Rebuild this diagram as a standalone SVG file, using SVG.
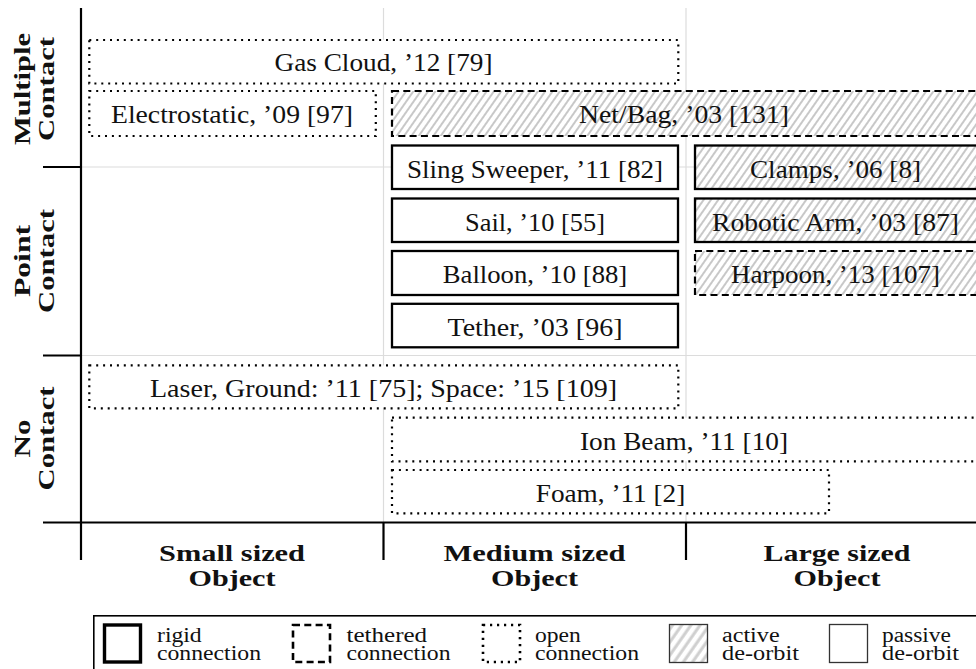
<svg xmlns="http://www.w3.org/2000/svg" width="976" height="669" viewBox="0 0 976 669">
<defs>
<pattern id="hatch" patternUnits="userSpaceOnUse" width="6" height="6" patternTransform="rotate(35)">
<rect width="6" height="6" fill="#fff"/>
<line x1="1" y1="0" x2="1" y2="6" stroke="#c8c8c8" stroke-width="2"/>
</pattern>
<pattern id="hatchL" patternUnits="userSpaceOnUse" width="7.5" height="7.5" patternTransform="rotate(35)">
<rect width="7.5" height="7.5" fill="#fff"/>
<line x1="2" y1="0" x2="2" y2="7.5" stroke="#cfcfcf" stroke-width="3"/>
</pattern>
<style>
.grid{stroke:#dcdcdc;stroke-width:1.2;fill:none}
.axis{stroke:#000;stroke-width:2.2;fill:none}
.solid{stroke:#000;stroke-width:2.3;fill:#fff}
.dashed{stroke:#000;stroke-width:2.2;stroke-dasharray:7 4.3;fill:#fff}
.dotted{stroke:#000;stroke-width:2.2;stroke-dasharray:2 4.9;fill:#fff}
.hat{fill:url(#hatch)}
.t{font-family:"Liberation Serif","DejaVu Serif",serif;font-size:26px;text-anchor:middle;fill:#111}
.b{font-family:"Liberation Serif","DejaVu Serif",serif;font-size:24px;font-weight:bold;text-anchor:middle;fill:#111}
.l{font-family:"Liberation Serif","DejaVu Serif",serif;font-size:20px;fill:#111}
</style>
</defs>
<rect width="976" height="669" fill="#fff"/>

<g id="grid">
<line class="grid" x1="383.5" y1="8" x2="383.5" y2="522"/>
<line class="grid" x1="686" y1="8" x2="686" y2="522"/>
<line class="grid" x1="81" y1="167" x2="976" y2="167"/>
<line class="grid" x1="81" y1="355.5" x2="976" y2="355.5"/>
</g>

<g id="axes">
<line class="axis" x1="81" y1="8" x2="81" y2="560"/>
<line class="axis" x1="43" y1="522.5" x2="976" y2="522.5"/>
<line class="axis" x1="43" y1="167" x2="81" y2="167"/>
<line class="axis" x1="43" y1="355.5" x2="81" y2="355.5"/>
<line class="axis" x1="383.5" y1="522.5" x2="383.5" y2="560"/>
<line class="axis" x1="686" y1="522.5" x2="686" y2="560"/>
</g>

<g id="row-labels">
<text class="b" transform="translate(29.5,89) rotate(-90)" textLength="112" lengthAdjust="spacingAndGlyphs">Multiple</text>
<text class="b" transform="translate(54,89) rotate(-90)" textLength="104" lengthAdjust="spacingAndGlyphs">Contact</text>
<text class="b" transform="translate(29.5,261) rotate(-90)" textLength="72" lengthAdjust="spacingAndGlyphs">Point</text>
<text class="b" transform="translate(54,261) rotate(-90)" textLength="104" lengthAdjust="spacingAndGlyphs">Contact</text>
<text class="b" transform="translate(29.5,438.5) rotate(-90)" textLength="38" lengthAdjust="spacingAndGlyphs">No</text>
<text class="b" transform="translate(54,438.5) rotate(-90)" textLength="104" lengthAdjust="spacingAndGlyphs">Contact</text>
</g>

<g id="col-labels">
<text class="b" x="232" y="561" textLength="146" lengthAdjust="spacingAndGlyphs">Small sized</text>
<text class="b" x="232" y="586" textLength="87" lengthAdjust="spacingAndGlyphs">Object</text>
<text class="b" x="534.5" y="561" textLength="182" lengthAdjust="spacingAndGlyphs">Medium sized</text>
<text class="b" x="534.5" y="586" textLength="87" lengthAdjust="spacingAndGlyphs">Object</text>
<text class="b" x="837" y="561" textLength="147" lengthAdjust="spacingAndGlyphs">Large sized</text>
<text class="b" x="837" y="586" textLength="87" lengthAdjust="spacingAndGlyphs">Object</text>
</g>

<g id="gas-cloud">
<rect class="dotted" x="89.3" y="40" width="589" height="43.5"/>
<text class="t" x="383.5" y="71" textLength="218" lengthAdjust="spacingAndGlyphs">Gas Cloud, ’12 [79]</text>
</g>
<g id="electrostatic">
<rect class="dotted" x="89.3" y="91" width="286.5" height="45"/>
<text class="t" x="232" y="123" textLength="242" lengthAdjust="spacingAndGlyphs">Electrostatic, ’09 [97]</text>
</g>
<g id="net-bag">
<rect class="dashed hat" x="392" y="91" width="600" height="45"/>
<text class="t" x="684" y="123" textLength="210" lengthAdjust="spacingAndGlyphs">Net/Bag, ’03 [131]</text>
</g>
<g id="sling-sweeper">
<rect class="solid" x="392" y="145.5" width="286" height="43.5"/>
<text class="t" x="535" y="177.5" textLength="256" lengthAdjust="spacingAndGlyphs">Sling Sweeper, ’11 [82]</text>
</g>
<g id="clamps">
<rect class="solid hat" x="695" y="145.5" width="300" height="43.5"/>
<text class="t" x="835.5" y="177.5" textLength="171" lengthAdjust="spacingAndGlyphs">Clamps, ’06 [8]</text>
</g>
<g id="sail">
<rect class="solid" x="392" y="198.5" width="286" height="43.5"/>
<text class="t" x="535" y="230.5" textLength="140" lengthAdjust="spacingAndGlyphs">Sail, ’10 [55]</text>
</g>
<g id="robotic-arm">
<rect class="solid hat" x="695" y="198.5" width="300" height="43.5"/>
<text class="t" x="835.5" y="230.5" textLength="247" lengthAdjust="spacingAndGlyphs">Robotic Arm, ’03 [87]</text>
</g>
<g id="balloon">
<rect class="solid" x="392" y="251" width="286" height="44"/>
<text class="t" x="535" y="283" textLength="184.5" lengthAdjust="spacingAndGlyphs">Balloon, ’10 [88]</text>
</g>
<g id="harpoon">
<rect class="dashed hat" x="695" y="251" width="300" height="44"/>
<text class="t" x="835.5" y="283" textLength="209" lengthAdjust="spacingAndGlyphs">Harpoon, ’13 [107]</text>
</g>
<g id="tether">
<rect class="solid" x="392" y="303.8" width="286" height="43.5"/>
<text class="t" x="535" y="335.5" textLength="175" lengthAdjust="spacingAndGlyphs">Tether, ’03 [96]</text>
</g>
<g id="laser">
<rect class="dotted" x="89.3" y="365.3" width="589" height="43"/>
<text class="t" x="383.5" y="397" textLength="467" lengthAdjust="spacingAndGlyphs">Laser, Ground: ’11 [75]; Space: ’15 [109]</text>
</g>
<g id="ion-beam">
<rect class="dotted" x="392" y="417.7" width="600" height="43.6"/>
<text class="t" x="684" y="449.5" textLength="208" lengthAdjust="spacingAndGlyphs">Ion Beam, ’11 [10]</text>
</g>
<g id="foam">
<rect class="dotted" x="392" y="470" width="437" height="43.3"/>
<text class="t" x="610.5" y="502" textLength="149.5" lengthAdjust="spacingAndGlyphs">Foam, ’11 [2]</text>
</g>

<g id="legend">
<rect x="93.8" y="615.8" width="920" height="100" fill="none" stroke="#000" stroke-width="1.6"/>
<rect x="104.5" y="625" width="36" height="37" fill="#fff" stroke="#000" stroke-width="3.4"/>
<text class="l" x="157" y="641.5" textLength="44.7" lengthAdjust="spacingAndGlyphs">rigid</text>
<text class="l" x="157" y="660" textLength="104" lengthAdjust="spacingAndGlyphs">connection</text>
<rect x="293" y="625" width="37" height="37" fill="#fff" stroke="#000" stroke-width="2.6" stroke-dasharray="7 4.3"/>
<text class="l" x="346.5" y="641.5" textLength="80.6" lengthAdjust="spacingAndGlyphs">tethered</text>
<text class="l" x="346.5" y="660" textLength="104" lengthAdjust="spacingAndGlyphs">connection</text>
<rect x="483" y="625" width="37" height="37" fill="#fff" stroke="#000" stroke-width="2.6" stroke-dasharray="2.2 4.8"/>
<text class="l" x="535" y="641.5" textLength="45.8" lengthAdjust="spacingAndGlyphs">open</text>
<text class="l" x="535" y="660" textLength="104" lengthAdjust="spacingAndGlyphs">connection</text>
<rect x="669.5" y="624.5" width="38" height="38" fill="url(#hatchL)" stroke="#333" stroke-width="1.3"/>
<text class="l" x="722" y="641.5" textLength="57.6" lengthAdjust="spacingAndGlyphs">active</text>
<text class="l" x="722" y="660" textLength="76.9" lengthAdjust="spacingAndGlyphs">de-orbit</text>
<rect x="829.5" y="624.5" width="38" height="38" fill="#fff" stroke="#333" stroke-width="1.3"/>
<text class="l" x="882" y="641.5" textLength="69" lengthAdjust="spacingAndGlyphs">passive</text>
<text class="l" x="882" y="660" textLength="76.9" lengthAdjust="spacingAndGlyphs">de-orbit</text>
</g>
</svg>
